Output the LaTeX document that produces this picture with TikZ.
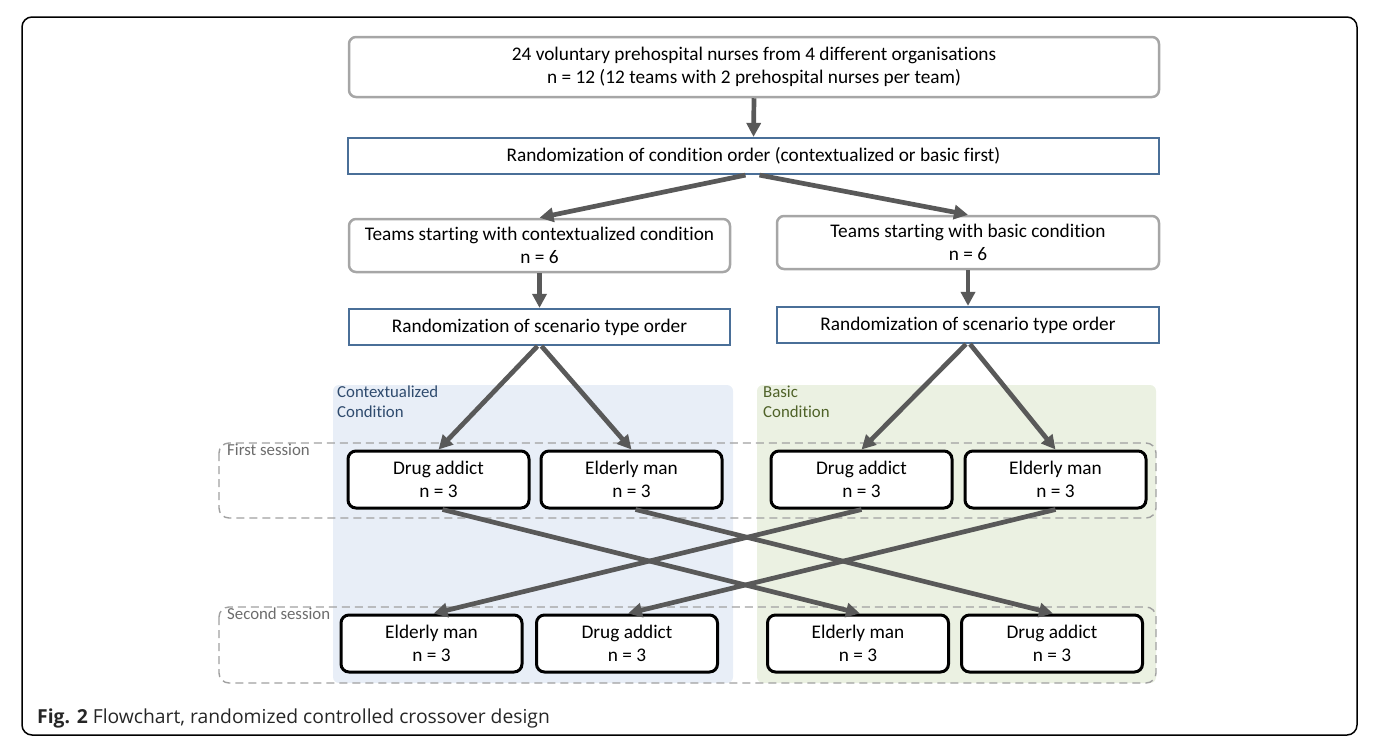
\documentclass[tikz,border=0pt]{standalone}
\usepackage{fontspec}
\setmainfont{Carlito}[Ligatures=NoCommon]
\newfontfamily\capfont{Open Sans}
\usetikzlibrary{arrows.meta}
\definecolor{boxgray}{HTML}{A6A6A6}
\definecolor{boxblue}{HTML}{4A6F98}
\definecolor{arrgray}{HTML}{595959}
\definecolor{panelblue}{HTML}{E8EEF7}
\definecolor{panelgreen}{HTML}{EBF1E2}
\definecolor{txtblue}{HTML}{2F4B6E}
\definecolor{txtgreen}{HTML}{4F6228}
\definecolor{dashgray}{HTML}{A0A0A0}
\tikzset{
  graybox/.style={draw=boxgray, line width=2.5pt, rounded corners=7pt, fill=white, align=center, inner sep=0pt, font=\fontsize{19.3}{23}\selectfont},
  bluebox/.style={draw=boxblue, line width=2.2pt, fill=white, align=center, inner sep=0pt, font=\fontsize{19.3}{23}\selectfont},
  scenbox/.style={draw=black, line width=3pt, rounded corners=8pt, fill=white, align=center, inner sep=0pt, minimum width=181pt, minimum height=57pt, font=\fontsize{19.3}{23}\selectfont},
  arr/.style={draw=arrgray, line width=4.7pt, -{Triangle[length=14pt,width=14pt]}, shorten >=0pt},
  sessbox/.style={draw=dashgray, line width=1.4pt, dash pattern=on 8pt off 5pt, rounded corners=10pt},
  sesslabel/.style={anchor=north west, inner sep=0pt, text=gray!85!black, font=\fontsize{16.8}{18}\selectfont},
  panellabel/.style={anchor=north west, inner sep=0pt, align=left, font=\fontsize{16.8}{20}\selectfont}
}
\begin{document}
\begin{tikzpicture}[x=1pt,y=-1pt]
\useasboundingbox (0,0) rectangle (1375,747);
% outer frame
\draw[line width=1.5pt, rounded corners=10pt] (22,17) rectangle (1357,735);
% panels
\fill[panelblue, rounded corners=6pt] (333,385) rectangle (733,683);
\fill[panelgreen, rounded corners=6pt] (757,385) rectangle (1156,683);
\node[panellabel, text=txtblue] (plb) at (337,386) {Contextualized\\Condition};
\node[panellabel, text=txtgreen] (plg) at (763,386) {Basic\\Condition};
% sessions
\draw[sessbox] (219,443) rectangle (1156,518);
\draw[sessbox] (219,607) rectangle (1156,683);
\node[sesslabel] (s1) at (227,444) {First session};
\node[sesslabel] (s2) at (227,608) {Second session};
% top nodes
\node[graybox, minimum width=810pt, minimum height=60pt] (top) at (754,67) {24 voluntary prehospital nurses from 4 different organisations\\n = 12 (12 teams with 2 prehospital nurses per team)};
\node[bluebox, minimum width=811pt, minimum height=36pt] (rand) at (753.5,156) {Randomization of condition order (contextualized or basic first)};
\node[graybox, minimum width=381pt, minimum height=53pt] (tl) at (539.5,245.5) {Teams starting with contextualized condition\\n = 6};
\node[graybox, minimum width=382pt, minimum height=53pt] (tr) at (968,242.5) {Teams starting with basic condition\\n = 6};
\node[bluebox, minimum width=381pt, minimum height=36pt] (rl) at (539.5,327) {Randomization of scenario type order};
\node[bluebox, minimum width=382pt, minimum height=36pt] (rr) at (968,325) {Randomization of scenario type order};
% scenario boxes
\node[scenbox] (da1l) at (438.5,479.5) {Drug addict\\n = 3};
\node[scenbox] (em1l) at (631.5,479.5) {Elderly man\\n = 3};
\node[scenbox] (da1r) at (861.5,479.5) {Drug addict\\n = 3};
\node[scenbox] (em1r) at (1055.5,479.5) {Elderly man\\n = 3};
\node[scenbox] (em2l) at (431.5,643.5) {Elderly man\\n = 3};
\node[scenbox] (da2l) at (627,643.5) {Drug addict\\n = 3};
\node[scenbox] (em2r) at (858,643.5) {Elderly man\\n = 3};
\node[scenbox] (da2r) at (1052,643.5) {Drug addict\\n = 3};
% arrows
\draw[arr] (top.south) -- (rand.north);
\draw[arr] ([xshift=-8pt]rand.south) -- (tl.north);
\draw[arr] ([xshift=6pt]rand.south) -- (tr.north);
\draw[arr] (tl.south) -- (rl.north);
\draw[arr] (tr.south) -- (rr.north);
\draw[arr] ([xshift=-2pt]rl.south) -- (da1l.north);
\draw[arr] ([xshift=2pt]rl.south) -- (em1l.north);
\draw[arr] ([xshift=-2pt]rr.south) -- (da1r.north);
\draw[arr] ([xshift=2pt]rr.south) -- (em1r.north);
\draw[arr] ([xshift=4pt]da1l.south) -- ([xshift=2pt]em2r.north);
\draw[arr] ([xshift=4pt]em1l.south) -- ([xshift=1pt]da2r.north);
\draw[arr] (da1r.south) -- ([xshift=2pt]em2l.north);
\draw[arr] (em1r.south) -- ([xshift=1pt]da2l.north);
% caption
\node[anchor=base west, inner sep=0pt, text=black!85, font=\capfont\fontsize{19.3}{22}\selectfont] (cap) at (37,723) {\textbf{Fig. 2} Flowchart, randomized controlled crossover design};
\end{tikzpicture}
\end{document}
